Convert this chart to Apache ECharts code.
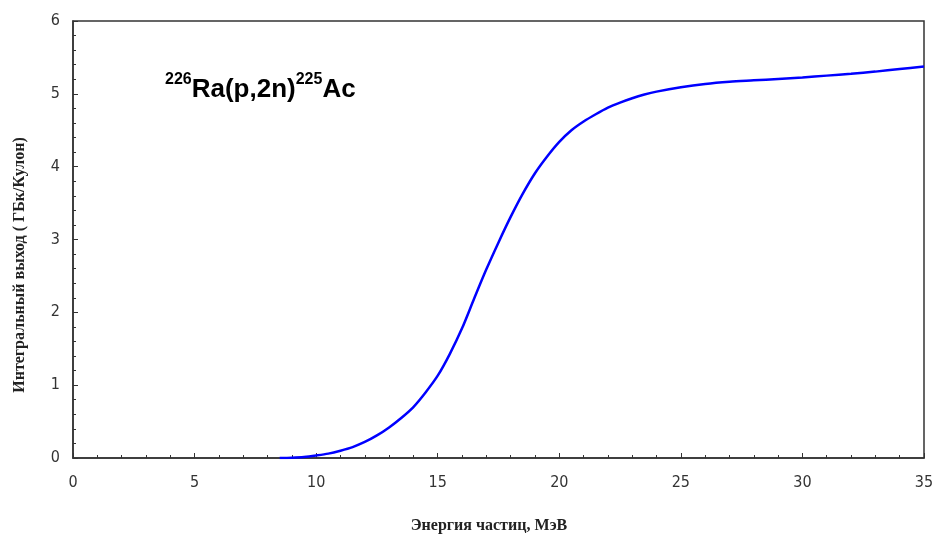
<!DOCTYPE html>
<html>
<head>
<meta charset="utf-8">
<script src="https://cdn.jsdelivr.net/npm/echarts@6/dist/echarts.min.js"></script>
<style>html,body{margin:0;padding:0;background:#fff}#c{width:933px;height:534px}</style>
</head>
<body>
<div id="c"></div>
<script>
const energy = [8.5, 9, 9.5, 10, 10.5, 11, 11.5, 12, 12.5, 13, 13.5, 14, 14.5, 15, 15.5, 16, 16.5, 17, 17.5, 18, 18.5, 19, 19.5, 20, 20.5, 21, 21.5, 22, 22.5, 23, 23.5, 24, 25, 26, 27, 28, 29, 30, 31, 32, 33, 34, 35];
const yieldValues = [0, 0.005, 0.015, 0.035, 0.06, 0.10, 0.15, 0.22, 0.31, 0.42, 0.55, 0.70, 0.90, 1.13, 1.43, 1.78, 2.19, 2.59, 2.96, 3.31, 3.63, 3.91, 4.14, 4.34, 4.50, 4.62, 4.72, 4.81, 4.88, 4.94, 4.99, 5.03, 5.09, 5.135, 5.165, 5.185, 5.205, 5.225, 5.25, 5.275, 5.305, 5.34, 5.375];
const xTitle = 'Энергия частиц, МэВ';
const yTitle = 'Интегральный выход ( ГБк/Кулон)';

const chart = echarts.init(document.getElementById('c'));
const axisColor = '#333';
const tickFont = '"DejaVu Sans Condensed", "Liberation Sans", sans-serif';
chart.setOption({
  animation: false,
  backgroundColor: '#fff',
  grid: { left: 73, right: 9, top: 21, bottom: 76, containLabel: false, outerBoundsMode: 'none', show: true, borderColor: axisColor, borderWidth: 1.5, backgroundColor: 'transparent' },
  xAxis: {
    type: 'value', min: 0, max: 35, interval: 5,
    axisLine: { show: true, onZero: false, lineStyle: { color: axisColor, width: 1.5 } },
    axisTick: { show: true, inside: true, length: 5, lineStyle: { color: axisColor, width: 1 } },
    minorTick: { show: true, splitNumber: 5, length: 3, lineStyle: { color: axisColor, width: 1 } },
    splitLine: { show: false },
    axisLabel: { fontFamily: tickFont, fontSize: 16, color: '#333', margin: 17 }
  },
  yAxis: {
    type: 'value', min: 0, max: 6, interval: 1,
    axisLine: { show: true, lineStyle: { color: axisColor, width: 1.5 } },
    axisTick: { show: true, inside: true, length: 5, lineStyle: { color: axisColor, width: 1 } },
    minorTick: { show: true, splitNumber: 5, length: 3, lineStyle: { color: axisColor, width: 1 } },
    splitLine: { show: false },
    axisLabel: { fontFamily: tickFont, fontSize: 16, color: '#333', margin: 13 }
  },
  graphic: [{
    type: 'text', left: 165, top: 72,
    style: {
      text: '{s|226}{b|Ra(p,2n)}{s|225}{b|Ac}',
      rich: {
        s: { fontFamily: 'Liberation Sans', fontWeight: 'bold', fontSize: 16, verticalAlign: 'top', lineHeight: 31, color: '#000' },
        b: { fontFamily: 'Liberation Sans', fontWeight: 'bold', fontSize: 26, verticalAlign: 'bottom', lineHeight: 31, color: '#000' }
      }
    }
  }, {
    type: 'text', x: 20, y: 265, rotation: Math.PI / 2,
    style: { text: yTitle, fontFamily: 'Liberation Serif', fontWeight: 'bold', fontSize: 16, fill: '#222', align: 'center', verticalAlign: 'middle' }
  }, {
    type: 'text', x: 489, y: 526,
    style: { text: xTitle, fontFamily: 'Liberation Serif', fontWeight: 'bold', fontSize: 16, fill: '#222', align: 'center', verticalAlign: 'middle' }
  }],
  series: [{
    type: 'line',
    data: energy.map((e, i) => [e, yieldValues[i]]),
    smooth: 0.3,
    showSymbol: false,
    lineStyle: { color: '#0000ff', width: 2.5 },
    itemStyle: { color: '#0000ff' }
  }]
});
</script>
</body>
</html>
